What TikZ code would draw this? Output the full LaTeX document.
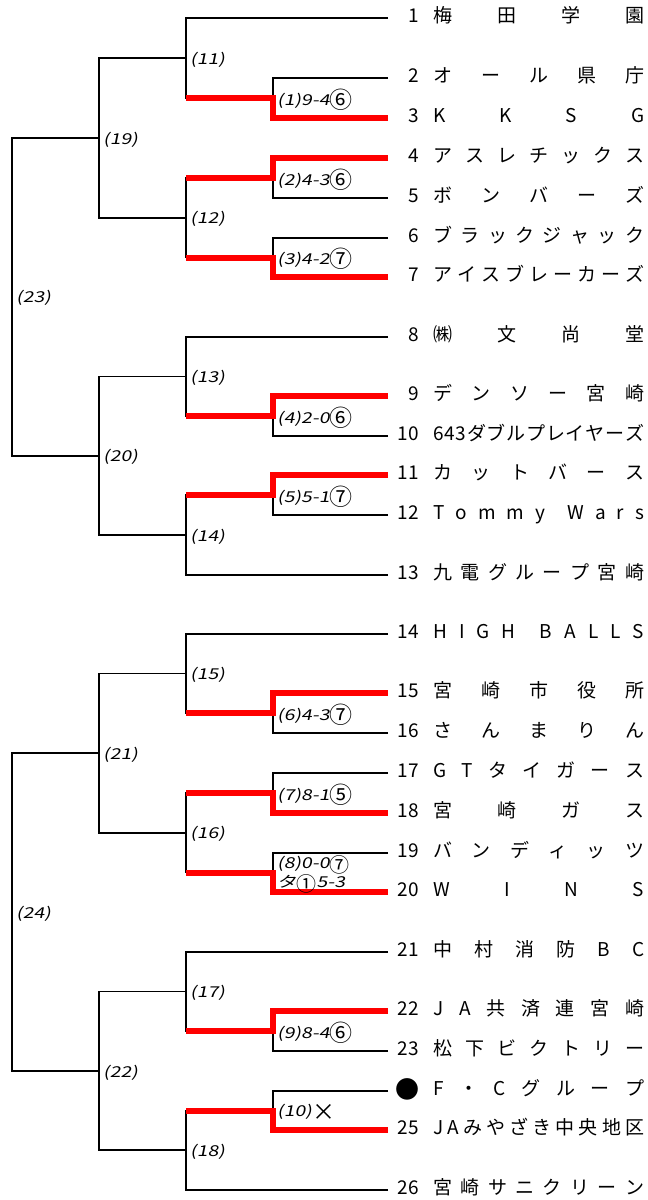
\documentclass[tikz,border=0pt]{standalone}
\usepackage{fontspec}
\setmainfont{Noto Sans CJK JP}
\newfontfamily\labfont[FakeSlant=0.2,FakeStretch=1.3]{Noto Sans CJK JP}
\usetikzlibrary{positioning}

% spread the characters of a team name over a fixed width
\newcommand\spread[1]{\makebox[211pt][s]{\foreach \c [count=\k] in #1 {\ifnum\k>1 \hfil\fi\c}}}
\newcommand\cd[2][23]{\raisebox{-3.2pt}{\rmfamily\fontsize{#1}{#1}\selectfont #2}}

\begin{document}
\begin{tikzpicture}[
         x=1pt, y=-1pt,
         bline/.style={line width=1.6pt, black},
         win/.style={line width=6pt, red},
         num/.style={anchor=east, inner sep=0pt, text height=0.9em, text depth=0.1em, font=\fontsize{19}{22}\selectfont},
         team/.style={inner sep=0pt, text height=0.9em, text depth=0.1em, font=\fontsize{19}{22}\selectfont},
         score/.style={anchor=west, inner sep=0pt, xshift=4pt, yshift=-1.5pt, font=\labfont\fontsize{15}{19}\selectfont},
         round/.style={score}
      ]
         \useasboundingbox (0,0) rectangle (648,1200);

         % Ends of the team lines
         \foreach \i/\y in {1/18,2/78,3/118,4/158,5/198,6/238,7/277,8/337,9/396,10/436,11/475,12/515,13/575,
                            14/634,15/693,16/733,17/773,18/813,19/853,20/892,21/952,22/1011,23/1051,24/1091,25/1130,26/1190}
            \coordinate (e\i) at (388,\y);

         % Junctions of the matches
         \foreach \m/\x/\y in {m1/273/98, m2/273/178, m3/273/257.5, m4/273/416, m5/273/495,
                               m6/273/713, m7/273/793, m8/273/872.5, m9/273/1031, m10/273/1110.5,
                               r11/186/58, r12/186/217.75, r13/186/376.5, r14/186/535,
                               r15/186/673.5, r16/186/832.75, r17/186/991.5, r18/186/1150.25,
                               r19/99/137.9, r20/99/455.75, r21/99/753.1, r22/99/1070.9,
                               r23/12/296.8, r24/12/912}
            \coordinate (\m) at (\x,\y);

         % Bracket lines
         \foreach \a/\b in {e2/m1, e3/m1, e4/m2, e5/m2, e6/m3, e7/m3, e9/m4, e10/m4, e11/m5, e12/m5,
                            e15/m6, e16/m6, e17/m7, e18/m7, e19/m8, e20/m8, e22/m9, e23/m9, e24/m10, e25/m10,
                            e1/r11, m1/r11, m2/r12, m3/r12, e8/r13, m4/r13, m5/r14, e13/r14,
                            e14/r15, m6/r15, m7/r16, m8/r16, e21/r17, m9/r17, m10/r18, e26/r18,
                            r11/r19, r12/r19, r13/r20, r14/r20, r15/r21, r16/r21, r17/r22, r18/r22,
                            r19/r23, r20/r23, r21/r24, r22/r24}
            \draw[bline] (\a) -| (\b);

         % Winners in red
         \foreach \w/\m/\p in {e3/m1/r11, e4/m2/r12, e7/m3/r12, e9/m4/r13, e11/m5/r14,
                               e15/m6/r15, e18/m7/r16, e20/m8/r16, e22/m9/r17, e25/m10/r18}
            \draw[win] (\w) -| (\m) -- (\m -| \p);

         % Teams
         \foreach \i/\nm in {1/{梅,田,学,園}, 2/{オ,ー,ル,県,庁}, 3/{K,K,S,G}, 4/{ア,ス,レ,チ,ッ,ク,ス},
                             5/{ボ,ン,バ,ー,ズ}, 6/{ブ,ラ,ッ,ク,ジ,ャ,ッ,ク}, 7/{ア,イ,ス,ブ,レ,ー,カ,ー,ズ},
                             8/{㈱,文,尚,堂}, 9/{デ,ン,ソ,ー,宮,崎}, 10/{6,4,3,ダ,ブ,ル,プ,レ,イ,ヤ,ー,ズ},
                             11/{カ,ッ,ト,バ,ー,ス}, 12/{T,o,m,m,y,,W,a,r,s}, 13/{九,電,グ,ル,ー,プ,宮,崎},
                             14/{H,I,G,H,,B,A,L,L,S}, 15/{宮,崎,市,役,所}, 16/{さ,ん,ま,り,ん},
                             17/{G,T,タ,イ,ガ,ー,ス}, 18/{宮,崎,ガ,ス}, 19/{バ,ン,デ,ィ,ッ,ツ}, 20/{W,I,N,S},
                             21/{中,村,消,防,B,C}, 22/{J,A,共,済,連,宮,崎}, 23/{松,下,ビ,ク,ト,リ,ー},
                             25/{J,A,み,や,ざ,き,中,央,地,区}, 26/{宮,崎,サ,ニ,ク,リ,ー,ン}}
         {
            \node[num] (n\i) at (e\i) [xshift=31pt] {\i};
            \node[team, right=14pt of n\i] (t\i) {\spread{\nm}};
         }
         \node[num, font=\fontsize{24}{24}\selectfont, yshift=-3pt] (n24) at (e24) [xshift=32pt] {●};
         \node[team, anchor=west] (t24) at (433,1091) {\spread{{F,・,C,グ,ル,ー,プ}}};

         % Scores
         \node[score] (s1) at (m1) {(1)9-4\cd{⑥}};
         \node[score] (s2) at (m2) {(2)4-3\cd{⑥}};
         \node[score] (s3) at (m3) {(3)4-2\cd{⑦}};
         \node[score] (s4) at (m4) {(4)2-0\cd{⑥}};
         \node[score] (s5) at (m5) {(5)5-1\cd{⑦}};
         \node[score] (s6) at (m6) {(6)4-3\cd{⑦}};
         \node[score] (s7) at (m7) {(7)8-1\cd{⑤}};
         \node[score, align=left] (s8) at (m8) {(8)0-0\cd[20]{⑦}\\[0pt]タ\cd[20]{①}5-3};
         \node[score] (s9) at (m9) {(9)8-4\cd{⑥}};
         \node[score] (s10) at (m10) {(10)\cd{×}};

         % Round numbers
         \foreach \r in {11,...,24}
            \node[round] (l\r) at (r\r) {(\r)};
      \end{tikzpicture}
\end{document}
